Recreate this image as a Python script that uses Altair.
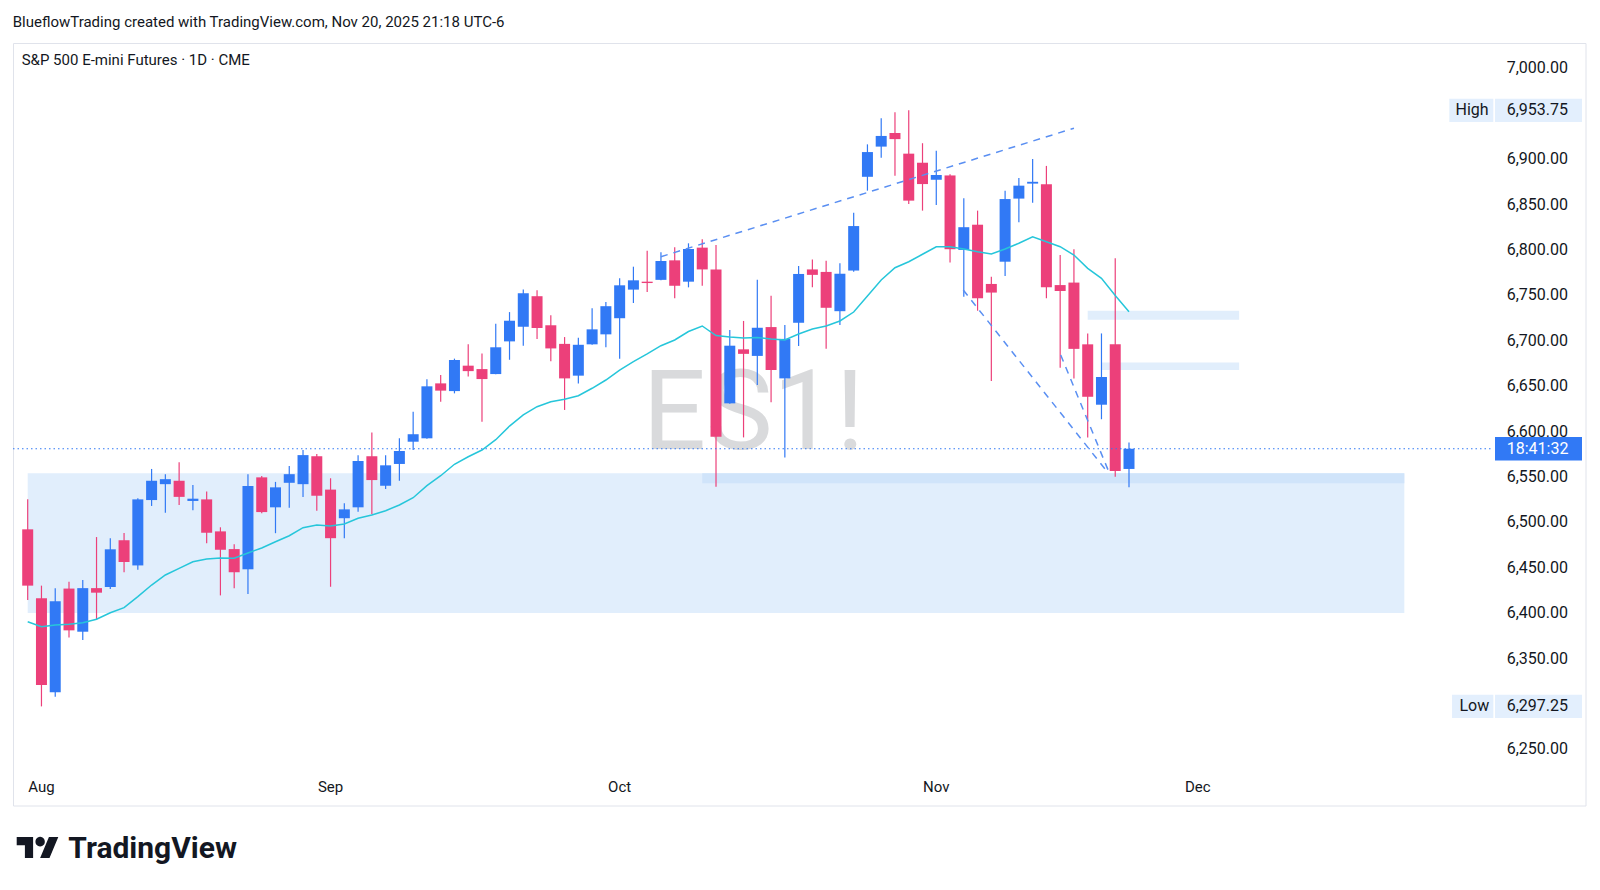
import altair as alt
import pandas as pd

# ---------------- data ----------------
dates = [
    "2025-07-31",
    "2025-08-01", "2025-08-04", "2025-08-05", "2025-08-06", "2025-08-07", "2025-08-08",
    "2025-08-11", "2025-08-12", "2025-08-13", "2025-08-14", "2025-08-15",
    "2025-08-18", "2025-08-19", "2025-08-20", "2025-08-21", "2025-08-22",
    "2025-08-25", "2025-08-26", "2025-08-27", "2025-08-28", "2025-08-29",
    "2025-09-02", "2025-09-03", "2025-09-04", "2025-09-05",
    "2025-09-08", "2025-09-09", "2025-09-10", "2025-09-11", "2025-09-12",
    "2025-09-15", "2025-09-16", "2025-09-17", "2025-09-18", "2025-09-19",
    "2025-09-22", "2025-09-23", "2025-09-24", "2025-09-25", "2025-09-26",
    "2025-09-29", "2025-09-30",
    "2025-10-01", "2025-10-02", "2025-10-03",
    "2025-10-06", "2025-10-07", "2025-10-08", "2025-10-09", "2025-10-10",
    "2025-10-13", "2025-10-14", "2025-10-15", "2025-10-16", "2025-10-17",
    "2025-10-20", "2025-10-21", "2025-10-22", "2025-10-23", "2025-10-24",
    "2025-10-27", "2025-10-28", "2025-10-29", "2025-10-30", "2025-10-31",
    "2025-11-03", "2025-11-04", "2025-11-05", "2025-11-06", "2025-11-07",
    "2025-11-10", "2025-11-11", "2025-11-12", "2025-11-13", "2025-11-14",
    "2025-11-17", "2025-11-18", "2025-11-19", "2025-11-20", "2025-11-21",
]
opens = [6492.25, 6416.25, 6312.75, 6427.0, 6379.5, 6427.5, 6428.75, 6480.25, 6452.5, 6524.5,
         6542.0, 6545.75, 6523.5, 6525.25, 6490.0, 6470.5, 6448.25, 6549.5, 6516.5, 6543.5,
         6542.0, 6572.75, 6536.0, 6504.5, 6516.5, 6572.75, 6540.25, 6564.25, 6588.75, 6592.5,
         6653.0, 6644.5, 6672.5, 6668.75, 6663.25, 6699.25, 6715.5, 6749.0, 6717.0, 6696.5,
         6661.5, 6696.0, 6707.0, 6724.75, 6756.25, 6765.0, 6767.0, 6788.5, 6765.0, 6802.5,
         6778.5, 6631.0, 6690.5, 6683.25, 6715.0, 6658.5, 6719.75, 6778.5, 6775.75, 6732.5,
         6777.25, 6880.5, 6913.75, 6928.75, 6906.0, 6896.0, 6877.25, 6882.0, 6800.0, 6827.75,
         6762.5, 6787.0, 6856.5, 6873.0, 6872.25, 6761.25, 6764.0, 6696.0, 6629.5, 6696.0,
         6558.75]
highs = [6525.25, 6430.25, 6427.25, 6434.5, 6436.5, 6483.75, 6482.5, 6488.25, 6526.5, 6558.75,
         6553.0, 6566.0, 6541.0, 6534.0, 6494.5, 6475.75, 6553.0, 6551.0, 6544.5, 6562.0,
         6579.5, 6575.25, 6548.5, 6521.0, 6573.75, 6599.0, 6573.75, 6592.5, 6621.75, 6657.5,
         6662.25, 6680.25, 6696.0, 6686.0, 6718.75, 6731.5, 6756.5, 6755.5, 6728.0, 6704.0,
         6703.25, 6735.75, 6742.5, 6768.75, 6781.5, 6799.0, 6797.5, 6803.0, 6807.25, 6811.75,
         6805.5, 6711.75, 6721.75, 6767.0, 6749.5, 6717.25, 6782.25, 6789.5, 6788.0, 6785.25,
         6841.0, 6916.25, 6945.0, 6951.5, 6953.75, 6917.5, 6909.25, 6883.25, 6856.75, 6843.25,
         6770.5, 6865.25, 6879.25, 6900.0, 6892.5, 6794.5, 6800.75, 6708.0, 6708.0, 6790.75,
         6588.0]
lows = [6414.5, 6297.25, 6308.0, 6373.0, 6370.5, 6392.5, 6426.5, 6445.0, 6447.75, 6518.0,
        6510.5, 6519.0, 6513.25, 6477.0, 6419.5, 6427.25, 6421.0, 6510.0, 6488.0, 6516.0,
        6528.0, 6512.75, 6429.0, 6482.5, 6511.75, 6508.75, 6536.75, 6545.75, 6579.5, 6592.0,
        6632.75, 6642.0, 6660.5, 6610.75, 6663.0, 6679.0, 6694.5, 6702.0, 6677.5, 6623.75,
        6653.0, 6695.5, 6692.75, 6680.25, 6741.5, 6753.5, 6766.5, 6746.75, 6758.75, 6760.5,
        6539.25, 6630.5, 6593.5, 6651.25, 6632.25, 6571.5, 6694.25, 6758.75, 6691.0, 6717.25,
        6776.0, 6865.25, 6901.5, 6881.75, 6850.5, 6843.25, 6849.5, 6786.0, 6748.5, 6733.0,
        6655.5, 6771.25, 6830.5, 6852.0, 6746.75, 6670.25, 6658.5, 6593.5, 6613.5, 6550.25,
        6538.5]
closes = [6430.25, 6320.75, 6413.0, 6381.0, 6427.5, 6422.5, 6470.25, 6456.25, 6525.25, 6545.75,
          6547.5, 6528.0, 6526.0, 6488.5, 6469.75, 6445.0, 6540.0, 6511.25, 6538.5, 6553.0,
          6574.0, 6529.25, 6482.5, 6514.25, 6567.5, 6546.5, 6562.75, 6578.5, 6597.0, 6649.75,
          6645.0, 6678.75, 6666.5, 6657.75, 6692.75, 6722.0, 6752.25, 6714.0, 6691.5, 6658.5,
          6695.5, 6712.5, 6738.0, 6761.0, 6766.5, 6763.5, 6787.75, 6760.5, 6801.0, 6778.5,
          6594.25, 6694.5, 6685.5, 6714.25, 6667.75, 6702.0, 6773.5, 6772.5, 6736.25, 6773.75,
          6826.25, 6907.75, 6925.5, 6922.0, 6854.25, 6872.5, 6882.5, 6800.75, 6825.0, 6746.75,
          6753.0, 6856.0, 6870.75, 6875.0, 6758.75, 6754.75, 6691.0, 6638.25, 6660.0, 6556.5,
          6581.0]
ema20 = [6390.5, 6385.0, 6386.9, 6387.7, 6389.4, 6393.2, 6400.4, 6406.0, 6418.1, 6430.9,
         6442.0, 6449.3, 6456.6, 6459.6, 6460.7, 6460.4, 6466.2, 6471.7, 6478.6, 6485.2,
         6494.1, 6497.0, 6495.9, 6498.1, 6504.4, 6508.0, 6512.8, 6519.1, 6527.1, 6540.3,
         6551.3, 6563.9, 6572.2, 6579.6, 6591.0, 6606.0, 6618.2, 6627.3, 6632.8, 6635.5,
         6639.4, 6647.6, 6656.7, 6667.7, 6676.9, 6685.4, 6694.5, 6700.8, 6710.1, 6716.2,
         6705.7, 6704.1, 6703.0, 6703.5, 6701.9, 6700.8, 6707.4, 6712.9, 6716.2, 6721.7,
         6731.6, 6749.2, 6766.9, 6780.4, 6787.0, 6795.2, 6803.5, 6803.5, 6801.0, 6798.0,
         6795.5, 6801.0, 6807.3, 6814.5, 6809.0, 6803.5, 6794.4, 6779.7, 6768.7, 6749.8,
         6731.9]

# time-scale month ticks (bar index of the first session of each month)
month_tick_index = [1, 22, 43, 66, 85]
month_tick_label = ["Aug", "Sep", "Oct", "Nov", "Dec"]
# price-scale labels shown (6,950 and 6,300 are hidden behind the High / Low tags)
price_ticks = [7000, 6900, 6850, 6800, 6750, 6700, 6650, 6600, 6550, 6500,
               6450, 6400, 6350, 6250]

# drawings (bar index, price)
zone_i0 = [0, 49, 77, 78]
zone_i1 = [100, 100, 88, 88]
zone_p0 = [6400.0, 6543.0, 6723.0, 6667.75]
zone_p1 = [6554.0, 6554.0, 6733.0, 6676.0]
zone_fill = ["#E1EEFC", "#D0E4FA", "#E1EEFC", "#E1EEFC"]

trend_id = ["up", "up", "a", "a", "b", "b"]
trend_i = [46.0, 76.0, 67.96, 78.5, 75.04, 78.63]
trend_p = [6792.5, 6934.0, 6755.8, 6554.0, 6684.3, 6552.1]

countdown = "18:41:32"

# ---------------- styling ----------------
FONT = "Roboto"
UP = "#3179F5"
DN = "#EC407A"
EMA_C = "#26C6DA"
TXT = "#131722"

W, H = 1481, 729          # plot area
FRAME_W, FRAME_H = 1573, 763

df = pd.DataFrame({"date": dates, "open": opens, "high": highs, "low": lows,
                   "close": closes, "ema": ema20})
df["i"] = range(len(df))

x_scale = alt.Scale(domain=[0, len(dates) - 1], range=[9.7, 1121.0], nice=False, zero=False)
y_scale = alt.Scale(domain=[6250, 7000], range=[706.3, 25.3], nice=False, zero=False)

color_cond = alt.condition("datum.close >= datum.open", alt.value(UP), alt.value(DN))

one = pd.DataFrame({"k": [0]})

# chart frame
frame = alt.Chart(one).mark_rect(fillOpacity=0, stroke="#E0E3EB", strokeWidth=1).encode(
    x=alt.value(0.5), x2=alt.value(FRAME_W), y=alt.value(0.5), y2=alt.value(FRAME_H)
)

# price scale labels
pt = pd.DataFrame({"p": price_ticks})
price_labels = alt.Chart(pt).mark_text(
    font=FONT, fontSize=16, color=TXT, align="left", baseline="middle"
).encode(
    y=alt.Y("p:Q", scale=y_scale, axis=None),
    x=alt.value(1493.7),
    text=alt.Text("p:Q", format=",.2f"),
)

# time scale labels
mt = pd.DataFrame({"i": month_tick_index, "m": month_tick_label})
month_labels = alt.Chart(mt).mark_text(
    font=FONT, fontSize=15, color=TXT, align="center", baseline="middle"
).encode(
    x=alt.X("i:Q", scale=x_scale, axis=None),
    y=alt.value(744),
    text="m:N",
)

# zones
zdf = pd.DataFrame({"i0": zone_i0, "i1": zone_i1, "p0": zone_p0, "p1": zone_p1, "fill": zone_fill})
zones = alt.Chart(zdf).mark_rect().encode(
    x=alt.X("i0:Q", scale=x_scale, axis=None), x2="i1:Q",
    y=alt.Y("p0:Q", scale=y_scale, axis=None), y2="p1:Q",
    color=alt.Color("fill:N", scale=None),
)

# watermark
watermark = alt.Chart(one).mark_text(
    text="ES1!", font=FONT, fontSize=112, color="#D9DADC", align="center", baseline="alphabetic"
).encode(x=alt.value(740.5), y=alt.value(406))

# candles
wicks = alt.Chart(df).mark_rule(strokeWidth=1.2).encode(
    x=alt.X("i:Q", scale=x_scale, axis=None),
    y=alt.Y("low:Q", scale=y_scale, axis=None), y2="high:Q",
    color=color_cond,
)
bodies = alt.Chart(df).mark_bar(size=11).encode(
    x=alt.X("i:Q", scale=x_scale, axis=None),
    y=alt.Y("open:Q", scale=y_scale, axis=None), y2="close:Q",
    color=color_cond,
)
ema = alt.Chart(df).mark_line(color=EMA_C, strokeWidth=1.5).encode(
    x=alt.X("i:Q", scale=x_scale, axis=None),
    y=alt.Y("ema:Q", scale=y_scale, axis=None),
)

# trend lines
tdf = pd.DataFrame({"line": trend_id, "i": trend_i, "price": trend_p})
trends = alt.Chart(tdf).mark_line(color="#5A8FF2", strokeWidth=1.5, strokeDash=[7, 6]).encode(
    x=alt.X("i:Q", scale=x_scale, axis=None),
    y=alt.Y("price:Q", scale=y_scale, axis=None),
    detail="line:N",
)

# last price dotted line
last = pd.DataFrame({"price": [closes[-1]], "label": [countdown]})
last_line = alt.Chart(last).mark_rule(color=UP, strokeWidth=1, strokeDash=[1.5, 3]).encode(
    y=alt.Y("price:Q", scale=y_scale, axis=None), x=alt.value(0), x2=alt.value(1480.3)
)


def rect_path(w, h):
    hr = h / w
    return f"M-1,{-hr:.4f} H1 V{hr:.4f} H-1 Z"


def box(data, cx, w, h, color):
    return alt.Chart(data).mark_point(
        shape=rect_path(w, h), size=w * w, filled=True, opacity=1, color=color, strokeWidth=0
    ).encode(x=alt.value(cx), y=alt.Y("price:Q", scale=y_scale, axis=None))


def label(data, x, color, field=None, text=None):
    enc = {"x": alt.value(x), "y": alt.Y("price:Q", scale=y_scale, axis=None)}
    if field:
        enc["text"] = alt.Text(f"{field}:N")
    else:
        enc["text"] = alt.value(text)
    return alt.Chart(data).mark_text(
        font=FONT, fontSize=16, color=color, align="left", baseline="middle"
    ).encode(**enc)


hi = pd.DataFrame({"price": [max(highs)], "label": [f"{max(highs):,.2f}"]})
lo = pd.DataFrame({"price": [min(lows)], "label": [f"{min(lows):,.2f}"]})

tag_layers = [
    box(last, 1525.5, 87, 23.3, "#3179F5"),
    label(last, 1493.7, "#FFFFFF", field="label"),
    box(hi, 1458.3, 44, 23.3, "#E3EFFD"),
    box(hi, 1525.5, 87, 23.3, "#E3EFFD"),
    label(hi, 1442.5, TXT, text="High"),
    label(hi, 1493.7, TXT, field="label"),
    box(lo, 1459.7, 41.3, 23.3, "#E3EFFD"),
    box(lo, 1525.5, 87, 23.3, "#E3EFFD"),
    label(lo, 1446.5, TXT, text="Low"),
    label(lo, 1493.7, TXT, field="label"),
]

header = alt.Chart(one).mark_text(
    text="BlueflowTrading created with TradingView.com, Nov 20, 2025 21:18 UTC-6",
    font=FONT, fontSize=15, color=TXT, align="left", baseline="middle"
).encode(x=alt.value(-0.3), y=alt.value(-21.3))

legend = alt.Chart(one).mark_text(
    text="S&P 500 E-mini Futures · 1D · CME",
    font=FONT, fontSize=15, color=TXT, align="left", baseline="middle"
).encode(x=alt.value(8.7), y=alt.value(17))

TV_LOGO = ("M-0.2113,0.507 H-0.6056 V-0.1127 H-1 V-0.507 H-0.2113 Z "
           "M0.5775,0.507 H0.1268 L0.5493,-0.507 H1 Z "
           "M0.3521,-0.2817 A0.2254,0.2254 0 1,0 -0.0986,-0.2817 "
           "A0.2254,0.2254 0 1,0 0.3521,-0.2817 Z")
logo_icon = alt.Chart(one).mark_point(
    shape=TV_LOGO, size=1730, filled=True, opacity=1, color=TXT, strokeWidth=0
).encode(x=alt.value(24.5), y=alt.value(804.5))
logo_text = alt.Chart(one).mark_text(
    text="TradingView", font=FONT, fontSize=30, fontWeight="bold", color=TXT,
    align="left", baseline="alphabetic"
).encode(x=alt.value(55.3), y=alt.value(815.3))

chart = alt.layer(
    frame, price_labels, month_labels, zones, watermark, wicks, bodies, ema, trends, last_line,
    *tag_layers, header, legend, logo_icon, logo_text,
).properties(
    width=W, height=H,
    padding={"left": 5, "top": 35, "right": 96, "bottom": 114},
    autosize=alt.AutoSizeParams(type="none"),
    background="#FFFFFF",
).configure_view(strokeWidth=0)

chart.save("out.html", embed_options={"renderer": "svg", "actions": False})
